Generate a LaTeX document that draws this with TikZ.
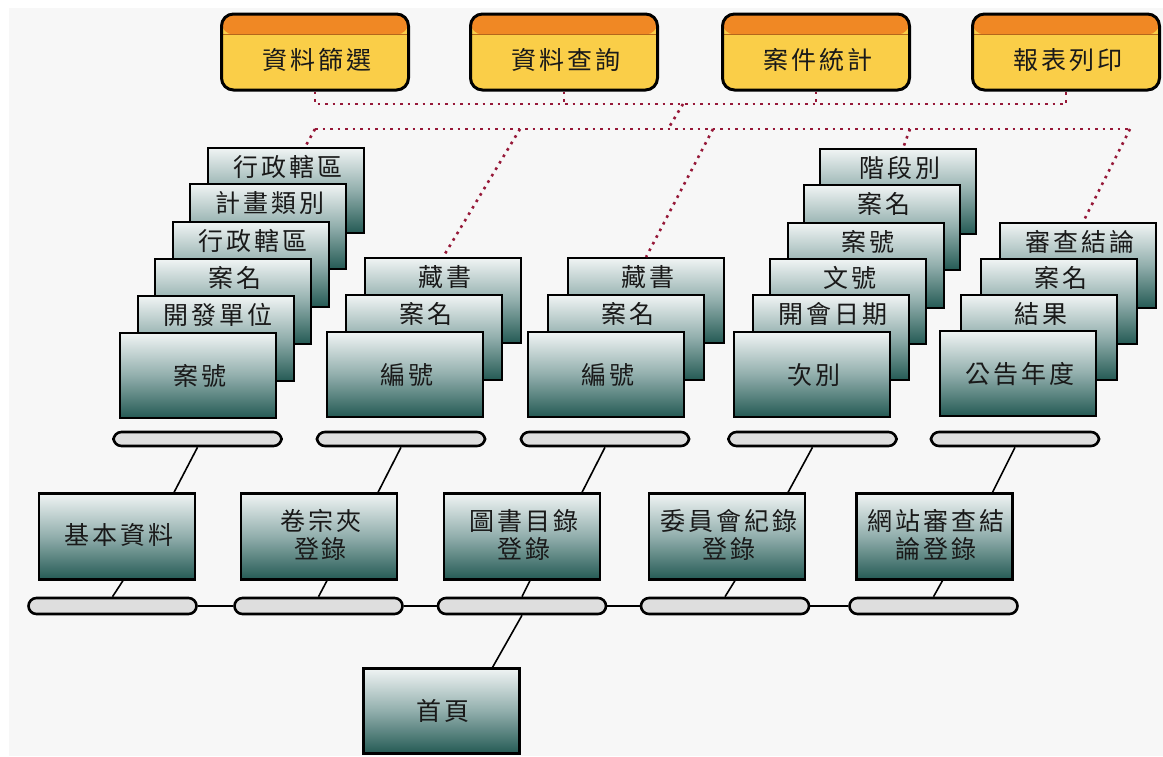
\documentclass[tikz,border=0pt]{standalone}
\usepackage{fontspec}
\newfontfamily\cjk[LetterSpace=12]{Noto Sans CJK TC}
\definecolor{bgc}{RGB}{247,247,247}
\definecolor{btop}{RGB}{240,244,244}
\definecolor{bmid}{RGB}{145,174,172}
\definecolor{bbot}{RGB}{36,90,84}
\definecolor{pillc}{RGB}{222,222,222}
\definecolor{orng}{RGB}{240,136,36}
\definecolor{yel}{RGB}{250,206,72}
\definecolor{dotc}{RGB}{150,24,56}
\tikzset{
  lbl/.style={font=\cjk\fontsize{25}{28}\selectfont, text=black!90, inner sep=0pt, align=center},
  gbox/.style={draw=black, line width=2.2pt, top color=btop, bottom color=bbot, middle color=bmid,
    minimum width=156pt, minimum height=85pt, inner sep=0pt},
  tbox/.style={draw=black, line width=3pt, rounded corners=12pt, fill=yel,
    minimum width=187pt, minimum height=76pt, inner sep=0pt,
    path picture={\fill[orng] (path picture bounding box.north west) rectangle ([yshift=-20.5pt]path picture bounding box.north east);
      \draw[line width=0.8pt, orng!75!black] ([yshift=-20.5pt]path picture bounding box.north west) -- ([yshift=-20.5pt]path picture bounding box.north east);}},
  pill/.style={draw=black, line width=2.6pt, fill=pillc, rounded corners=8pt,
    minimum width=168pt, minimum height=14pt, inner sep=0pt},
  conn/.style={draw=black, line width=1.6pt},
  dotline/.style={draw=dotc, line width=2.6pt, dash pattern=on 2.6pt off 4.9pt},
}
% back box: name, left, top, text
\newcommand\backbox[4]{%
  \node[gbox, anchor=north west] (#1) at (#2,#3) {};
  \node[lbl] (#1t) at ([yshift=-20pt,xshift=1.5pt]#1.north) {#4};}
\newcommand\frontbox[4]{%
  \node[gbox, anchor=north west] (#1) at (#2,#3) {};
  \node[lbl] (#1t) at ([xshift=1.5pt]#1.center) {#4};}
\begin{document}
\begin{tikzpicture}[x=1pt,y=-1pt]
\fill[white] (0,0) rectangle (1163,756);
\fill[bgc] (9,8) rectangle (1163,756);
\useasboundingbox (0,0) rectangle (1163,756);

% top boxes
\node[tbox] (t1) at (315,52) {};
\node[tbox] (t2) at (564,52) {};
\node[tbox] (t3) at (816,52) {};
\node[tbox] (t4) at (1066,52) {};
\node[lbl] (t1t) at ([yshift=-8pt,xshift=1.5pt]t1.center) {資料篩選};
\node[lbl] (t2t) at ([yshift=-8pt,xshift=1.5pt]t2.center) {資料查詢};
\node[lbl] (t3t) at ([yshift=-8pt,xshift=1.5pt]t3.center) {案件統計};
\node[lbl] (t4t) at ([yshift=-8pt,xshift=1.5pt]t4.center) {報表列印};

% dotted network coordinates
\coordinate (r1L) at (315,104);
\coordinate (r1R) at (1066,104);
\coordinate (c1) at (683,104);
\coordinate (c2) at (668,129);
\coordinate (r2L) at (315,129);
\coordinate (r2R) at (1130,129);
\coordinate (d2s) at (520,129);
\coordinate (d3s) at (713,129);
\coordinate (d4s) at (910,129);

% group boxes (back to front)
\backbox{g1a}{207}{147}{行政轄區}
\backbox{g1b}{189}{183}{計畫類別}
\backbox{g1c}{172}{221}{行政轄區}
\backbox{g1d}{154}{258}{案名}
\backbox{g1e}{137}{295}{開發單位}
\frontbox{g1f}{119}{332}{案號}

\backbox{g2a}{364}{257}{藏書}
\backbox{g2b}{345}{294}{案名}
\frontbox{g2c}{326}{331}{編號}

\backbox{g3a}{567}{257}{藏書}
\backbox{g3b}{547}{294}{案名}
\frontbox{g3c}{527}{331}{編號}

\backbox{g4a}{819}{148}{階段別}
\backbox{g4b}{803}{184}{案名}
\backbox{g4c}{787}{222}{案號}
\backbox{g4d}{769}{258}{文號}
\backbox{g4e}{752}{294}{開會日期}
\frontbox{g4f}{733}{331}{次別}

\backbox{g5a}{999}{222}{審查結論}
\backbox{g5b}{980}{258}{案名}
\backbox{g5c}{960}{294}{結果}
\frontbox{g5d}{939}{330}{公告年度}

% dotted lines
\draw[dotline] (t1.south) -- (r1L) -- (r1R) -- (t4.south);
\draw[dotline] (t2.south) -- (t2.south |- r1L);
\draw[dotline] (t3.south) -- (t3.south |- r1L);
\draw[dotline] (c1) -- (c2);
\draw[dotline] (r2L) -- (r2R);
\draw[dotline] (r2L) -- ([xshift=19pt]g1a.north);
\draw[dotline] (d2s) -- (g2a.north);
\draw[dotline] (d3s) -- (g3a.north);
\draw[dotline] (d4s) -- ([xshift=5pt]g4a.north);
\draw[dotline] (r2R) -- ([xshift=5pt]g5a.north);

% upper pills
\node[pill] (u1) at (197.5,439) {};
\node[pill] (u2) at (401,439) {};
\node[pill] (u3) at (605,439) {};
\node[pill] (u4) at (812.5,439) {};
\node[pill] (u5) at (1015,439) {};

% lower boxes
\node[gbox, minimum height=86pt] (l1) at (117,536.5) {};
\node[gbox, minimum height=86pt] (l2) at (319,536.5) {};
\node[gbox, minimum height=86pt] (l3) at (522,536.5) {};
\node[gbox, minimum height=86pt] (l4) at (727,536.5) {};
\node[gbox, minimum height=86pt] (l5) at (934.5,536.5) {};
\node[lbl] (l1t) at ([yshift=2pt,xshift=1.5pt]l1.center) {基本資料};
\node[lbl] (l2t) at ([yshift=2pt,xshift=1.5pt]l2.center) {卷宗夾\\登錄};
\node[lbl] (l3t) at ([yshift=2pt,xshift=1.5pt]l3.center) {圖書目錄\\登錄};
\node[lbl] (l4t) at ([yshift=2pt,xshift=1.5pt]l4.center) {委員會紀錄\\登錄};
\node[lbl] (l5t) at ([yshift=2pt,xshift=1.5pt]l5.center) {網站審查結\\論登錄};

% lower pills
\node[pill, minimum height=16pt] (d1) at (112.5,606) {};
\node[pill, minimum height=16pt] (d2) at (318.5,606) {};
\node[pill, minimum height=16pt] (d3) at (522,606) {};
\node[pill, minimum height=16pt] (d4) at (725,606) {};
\node[pill, minimum height=16pt] (d5) at (933.5,606) {};

% home
\node[gbox] (h) at (441.5,711) {};
\node[lbl] (ht) at ([xshift=1.5pt]h.center) {首頁};

% connectors
\draw[conn] (u1.south) -- ([xshift=57pt]l1.north);
\draw[conn] (u2.south) -- ([xshift=59pt]l2.north);
\draw[conn] (u3.south) -- ([xshift=60pt]l3.north);
\draw[conn] (u4.south) -- ([xshift=61pt]l4.north);
\draw[conn] (u5.south) -- ([xshift=58pt]l5.north);
\draw[conn] ([xshift=6pt]l1.south) -- (d1.north);
\draw[conn] ([xshift=8pt]l2.south) -- (d2.north);
\draw[conn] ([xshift=8pt]l3.south) -- (d3.north);
\draw[conn] ([xshift=8pt]l4.south) -- (d4.north);
\draw[conn] ([xshift=8pt]l5.south) -- (d5.north);
\draw[conn] (d1.east) -- (d2.west);
\draw[conn] (d2.east) -- (d3.west);
\draw[conn] (d3.east) -- (d4.west);
\draw[conn] (d4.east) -- (d5.west);
\draw[conn] (d3.south) -- ([xshift=51pt]h.north);
\end{tikzpicture}
\end{document}
